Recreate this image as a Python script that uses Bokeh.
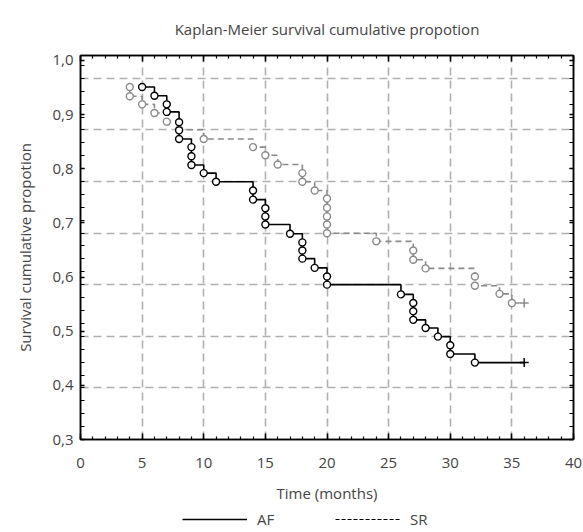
from bokeh.plotting import figure
from bokeh.layouts import column
from bokeh.models import (Range1d, LinearAxis, FixedTicker, CustomJSTickFormatter,
                          Legend, LegendItem)
from bokeh.embed import file_html
from bokeh.resources import INLINE

# ---- data ----
AF_TIME = [5, 6, 7, 7, 8, 8, 8, 9, 9, 9, 10, 11, 14, 14, 15, 15, 15, 17, 18, 18, 18,
           19, 20, 20, 26, 27, 27, 27, 28, 29, 30, 30, 32]
AF_SURV = [0.951, 0.935, 0.919, 0.905, 0.886, 0.871, 0.855, 0.840, 0.823, 0.807,
           0.792, 0.776, 0.760, 0.743, 0.727, 0.712, 0.697, 0.680, 0.664, 0.649,
           0.634, 0.617, 0.601, 0.586, 0.568, 0.552, 0.537, 0.521, 0.506, 0.490,
           0.474, 0.458, 0.442]
AF_END = 36

SR_TIME = [4, 4, 5, 6, 7, 8, 10, 14, 15, 16, 18, 18, 19, 20, 20, 20, 20, 20, 24,
           27, 27, 28, 32, 32, 34, 35]
SR_SURV = [0.951, 0.934, 0.919, 0.903, 0.887, 0.872, 0.855, 0.840, 0.825, 0.808,
           0.792, 0.776, 0.760, 0.745, 0.728, 0.712, 0.697, 0.681, 0.666, 0.649,
           0.632, 0.616, 0.601, 0.584, 0.569, 0.552]
SR_END = 36

SERIES = ["AF", "SR"]
X_TICKS = [0, 5, 10, 15, 20, 25, 30, 35, 40]
Y_TICKS = [0.3, 0.4, 0.5, 0.6, 0.7, 0.8, 0.9, 1.0]
GRID_STEP = 0.0953  # spacing of the (offset) background grid in the original

FONT = "Open Sans"
TXT = "#444444"
GRAY = "#8a8a8a"
NAN = float("nan")

p = figure(width=583, height=510, output_backend="svg", toolbar_location=None,
           x_range=Range1d(0, 40), y_range=Range1d(0.3, 1.0092),
           min_border_left=80, min_border_right=10, min_border_top=55,
           min_border_bottom=71, background_fill_color="white",
           border_fill_color="white", outline_line_color="black",
           outline_line_width=1.5)

p.title.text = "Kaplan-Meier survival cumulative propotion"
p.title.align = "center"
p.title.vertical_align = "top"
p.title.text_font = FONT
p.title.text_font_style = "normal"
p.title.text_font_size = "15px"
p.title.text_color = TXT
p.title.standoff = 29

x_ticker = FixedTicker(ticks=X_TICKS, minor_ticks=list(range(0, 41)))
y_minor = [round(0.3 + i * GRID_STEP / 4, 4) for i in range(0, 30) if 0.3 + i * GRID_STEP / 4 <= 1.009]
y_ticker = FixedTicker(ticks=Y_TICKS, minor_ticks=y_minor)

comma = CustomJSTickFormatter(code="return tick.toFixed(1).replace('.', ',');")
intfmt = CustomJSTickFormatter(code="return tick.toFixed(0);")
blank = CustomJSTickFormatter(code="return '';")

def style_axis(ax):
    ax.axis_line_color = "black"
    ax.axis_line_width = 1.5
    ax.major_tick_line_color = "black"
    ax.major_tick_line_width = 1.5
    ax.minor_tick_line_color = "black"
    ax.minor_tick_line_width = 1.2
    ax.major_tick_in = 6
    ax.major_tick_out = 0
    ax.minor_tick_in = 3
    ax.minor_tick_out = 0
    ax.major_label_text_font = FONT
    ax.major_label_text_font_size = "15px"
    ax.major_label_text_color = TXT
    ax.axis_label_text_font = FONT
    ax.axis_label_text_font_size = "15px"
    ax.axis_label_text_font_style = "normal"
    ax.axis_label_text_color = TXT

xa = p.xaxis[0]
xa.ticker = x_ticker
xa.formatter = intfmt
xa.axis_label = "Time (months)"
style_axis(xa)
xa.major_label_standoff = 18
xa.axis_label_standoff = 12

ya = p.yaxis[0]
ya.ticker = y_ticker
ya.formatter = comma
ya.axis_label = "Survival cumulative propotion"
style_axis(ya)
ya.major_tick_in = 4
ya.minor_tick_in = 4
ya.major_label_standoff = 7
ya.axis_label_standoff = 14

top = LinearAxis(ticker=x_ticker, formatter=blank)
style_axis(top)
top.major_label_standoff = 0
p.add_layout(top, "above")
right = LinearAxis(ticker=y_ticker, formatter=blank)
style_axis(right)
right.major_tick_in = 4
right.minor_tick_in = 4
right.major_label_standoff = 0
p.add_layout(right, "right")

# background grid
p.xgrid.ticker = FixedTicker(ticks=X_TICKS[1:-1])
p.ygrid.ticker = FixedTicker(ticks=[round(0.3 + k * GRID_STEP, 4) for k in range(1, 8)])
for g in (p.xgrid[0], p.ygrid[0]):
    g.grid_line_color = "#b0b0b0"
    g.grid_line_width = 1.6
    g.grid_line_dash = "8 5"

p.step(x=SR_TIME + [SR_END], y=SR_SURV + [SR_SURV[-1]], mode="after",
       line_color=GRAY, line_width=1.6, line_dash="6 4")
p.step(x=AF_TIME + [AF_END], y=AF_SURV + [AF_SURV[-1]], mode="after",
       line_color="black", line_width=1.6)

p.scatter(SR_TIME, SR_SURV, marker="circle", size=7, fill_color="white",
          line_color=GRAY, line_width=1.4)
p.scatter(AF_TIME, AF_SURV, marker="circle", size=7, fill_color="white",
          line_color="black", line_width=1.4)
p.scatter([SR_END], [SR_SURV[-1]], marker="cross", size=9, line_color=GRAY, line_width=1.5)
p.scatter([AF_END], [AF_SURV[-1]], marker="cross", size=9, line_color="black", line_width=1.5)

# ---- legend strip below the chart ----
lg = figure(width=583, height=22, output_backend="svg", toolbar_location=None,
            x_range=Range1d(0, 1), y_range=Range1d(0, 1),
            min_border_left=0, min_border_right=0, min_border_top=0,
            min_border_bottom=0, outline_line_color=None)
lg.axis.visible = False
lg.grid.visible = False
af_key = lg.line(x=[NAN, NAN], y=[NAN, NAN], line_color="black", line_width=1.4)
sr_key = lg.line(x=[NAN, NAN], y=[NAN, NAN], line_color="black", line_width=1.2,
                 line_dash="4 2")
legend = Legend(items=[LegendItem(label=SERIES[0], renderers=[af_key]),
                       LegendItem(label=SERIES[1], renderers=[sr_key])],
                orientation="horizontal", location=(102, 3),
                glyph_width=65, glyph_height=16, label_standoff=10, spacing=58,
                padding=0, margin=0, border_line_color=None,
                background_fill_alpha=0, label_text_font=FONT,
                label_text_font_size="15px", label_text_color=TXT,
                label_height=16)
lg.add_layout(legend, "center")

layout = column(p, lg, spacing=0)
open("out.html", "w").write(file_html(layout, INLINE))
